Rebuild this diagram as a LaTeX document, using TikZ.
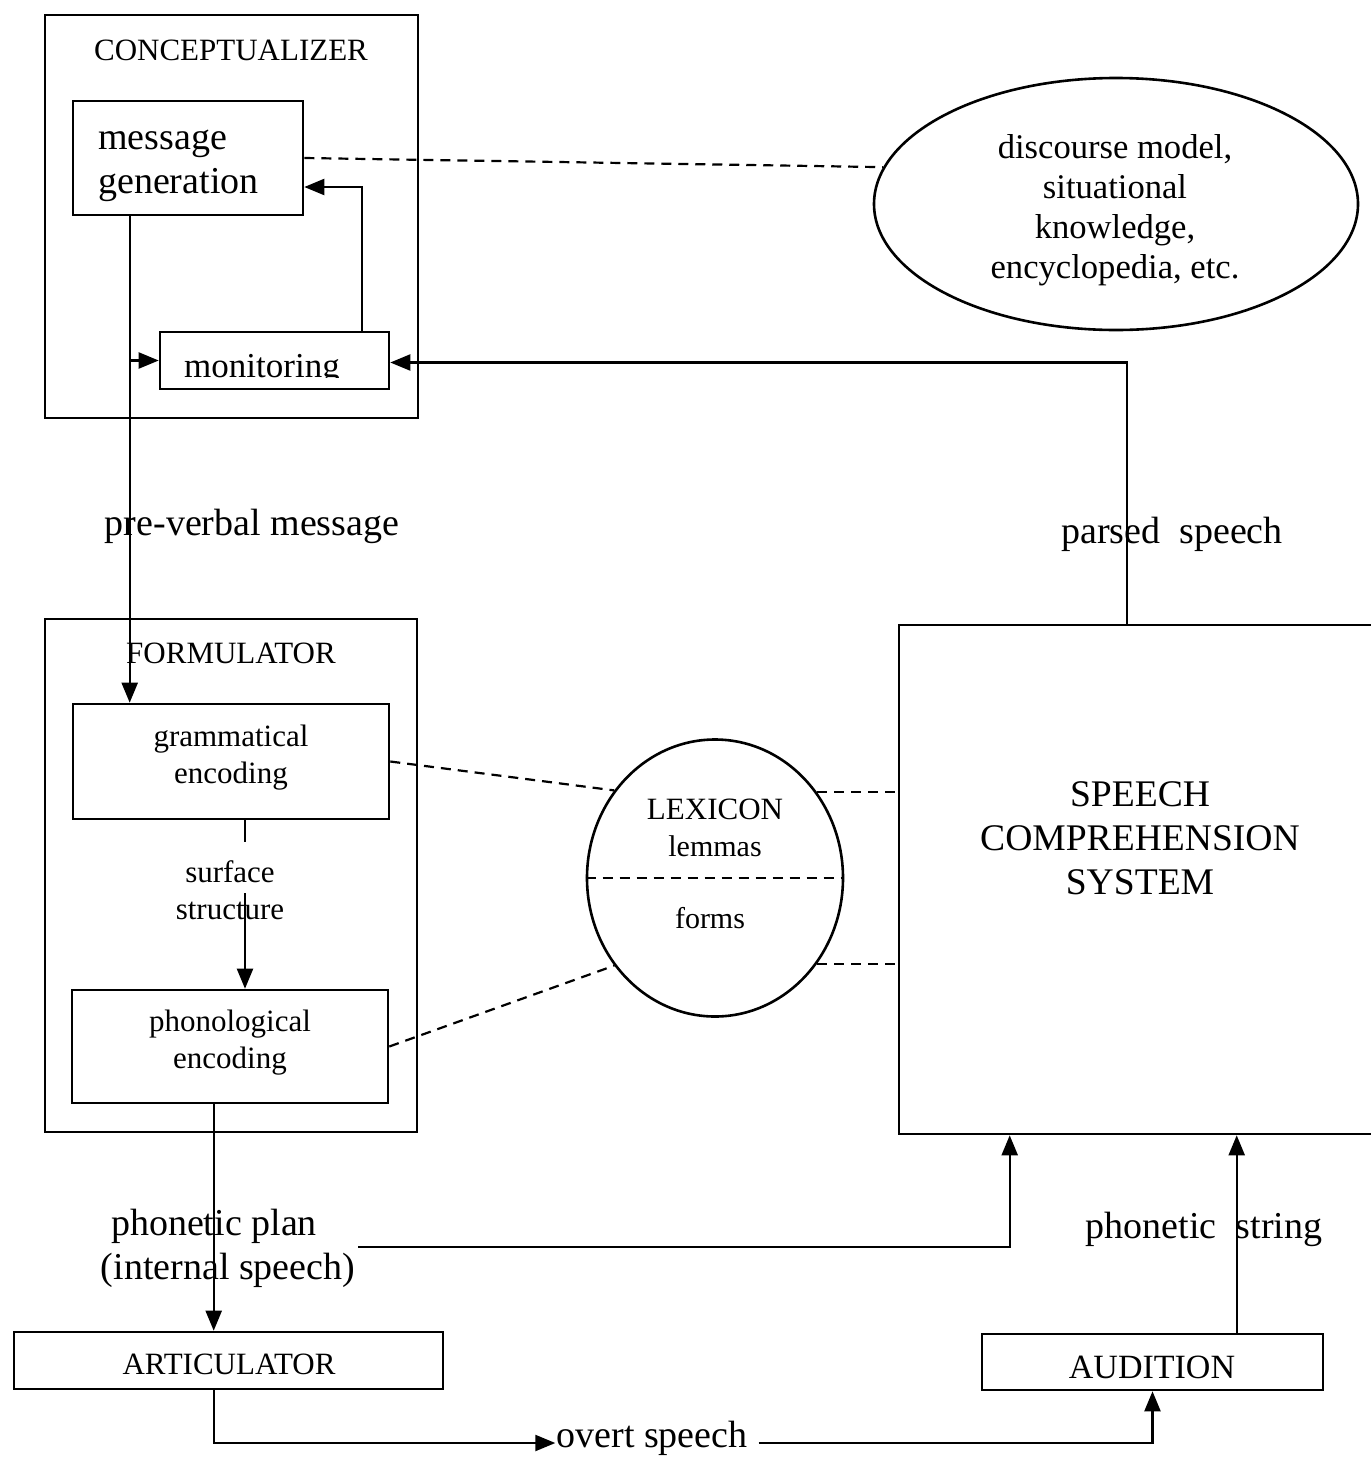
\documentclass[tikz,border=0pt]{standalone}
\usepackage{fontspec}
\setmainfont{Liberation Serif}
\usetikzlibrary{arrows.meta,shapes.geometric}
\begin{document}
\begin{tikzpicture}[x=1pt,y=-1pt,
  box/.style={draw,line width=2.6pt,inner sep=0pt},
  conn/.style={line width=2.2pt},
  arr/.style={conn,-{Triangle[length=20pt,width=16pt]}},
  dsh/.style={line width=2.2pt,dash pattern=on 10pt off 7pt},
  lbl/.style={inner sep=0pt,align=center},
  big/.style={font=\fontsize{38}{44}\selectfont},
  mid/.style={font=\fontsize{31}{37}\selectfont},
  ]
\clip (0,0) rectangle (1371,1457);

% ---------- Conceptualizer ----------
\node[box,minimum width=373pt,minimum height=403pt] (concept) at (231.5,216.5) {};
\node[lbl,mid] (concepttitle) at (231,50) {CONCEPTUALIZER};
\node[box,minimum width=230pt,minimum height=114pt] (msg) at (188,158) {};
\node[lbl,big,align=left,anchor=west] (msgtext) at (98,166) {message\\generation};
\node[box,minimum width=229pt,minimum height=57pt] (mon) at (274.5,360.5) {};
\begin{scope}
  \clip (160,332) rectangle (389,377);
  \node[lbl,font=\fontsize{35}{40}\selectfont,anchor=base] (montext) at (262,377) {monitoring};
\end{scope}

% ---------- Discourse model ----------
\node[box,ellipse,minimum width=484pt,minimum height=252pt] (disc) at (1116,204) {};
\node[lbl,font=\fontsize{34.6}{40}\selectfont] (disctext) at (1115,210) {discourse model,\\situational\\knowledge,\\encyclopedia, etc.};

% ---------- Formulator ----------
\node[box,minimum width=372pt,minimum height=513pt] (formul) at (231,875.5) {};
\node[lbl,mid] (formtitle) at (231,653) {FORMULATOR};
\node[box,minimum width=316pt,minimum height=115pt] (gram) at (231,761.5) {};
\node[lbl,mid] (gramtext) at (231,757.5) {grammatical\\encoding};
\node[box,minimum width=316pt,minimum height=113pt] (phon) at (230,1046.5) {};
\node[lbl,mid] (phontext) at (230,1042.5) {phonological\\encoding};
\node[lbl,mid] (surf) at (230,890.5) {surface\\structure};

% ---------- Lexicon ----------
\node[box,ellipse,minimum width=256pt,minimum height=277pt] (lex) at (715,878) {};
\node[lbl,mid] (lexname) at (715,809) {LEXICON};
\node[lbl,font=\fontsize{30}{36}\selectfont] (lemmas) at (715,846) {lemmas};
\node[lbl,font=\fontsize{30}{36}\selectfont] (forms) at (710,918) {forms};
\draw[dsh] (lex.west) -- (lex.east);

% ---------- Speech comprehension ----------
\node[box,minimum width=501pt,minimum height=509pt] (scs) at (1149.5,879.5) {};
\node[lbl,font=\fontsize{37.6}{44}\selectfont] (scstext) at (1140,838) {SPEECH\\COMPREHENSION\\SYSTEM};

% ---------- Articulator and audition ----------
\node[box,minimum width=429pt,minimum height=57pt] (artic) at (228.5,1360.5) {};
\node[lbl,mid] (artictext) at (229,1364) {ARTICULATOR};
\node[box,minimum width=341pt,minimum height=56pt] (aud) at (1152.5,1362) {};
\node[lbl,font=\fontsize{34}{40}\selectfont] (audtext) at (1152,1367) {AUDITION};

% ---------- Free labels ----------
\node[lbl,big] (prever) at (252,526) {pre-verbal message};
\node[lbl,big] (parsed) at (1172,534) {parsed~~speech};
\node[lbl,big] (phplan) at (214,1226) {phonetic plan};
\node[lbl,big] (internal) at (228,1270) {(internal speech)};
\node[lbl,big] (phstring) at (1204,1229) {phonetic~~string};
\node[lbl,big,inner xsep=1pt] (overt) at (652,1438) {overt speech};

% ---------- Connectors ----------
\draw[dsh] (msg.east) -- (disc.171);
\draw[arr] ([xshift=58pt]msg.south west) -- ([xshift=58pt]gram.north west);
\draw[arr] ([xshift=58pt]msg.south west |- mon.west) -- (mon.west);
\draw[arr] ([xshift=-28pt]mon.north east) |- ([yshift=-29pt]msg.east);
\draw[arr] ([xshift=229pt]scs.north west) |- ([yshift=-2pt]mon.east);

\coordinate (ssa) at (245,842);
\coordinate (ssb) at (245,893);
\draw[conn] (gram.south -| ssa) -- (ssa);
\draw[arr] (ssb) -- (phon.north -| ssb);

\draw[dsh] (gram.east) -- (lex.139);
\draw[dsh] (phon.east) -- (lex.221);
\draw[dsh] (lex.40) -- (lex.40 -| scs.west);
\draw[dsh] (lex.320) -- (lex.320 -| scs.west);

\draw[arr] ([xshift=143pt]phon.south west) -- ([xshift=143pt]phon.south west |- artic.north);
\coordinate (ipstart) at (358,1247);
\draw[arr] (ipstart) -| ([xshift=112pt]scs.south west);
\draw[arr] ([xshift=256pt]aud.north west) -- ([xshift=256pt]aud.north west |- scs.south);
\draw[arr] ([xshift=201pt]artic.south west) |- ([yshift=-5pt]overt.west);
\draw[arr] ([xshift=10pt,yshift=-5pt]overt.east) -| (aud.south);
\end{tikzpicture}
\end{document}
